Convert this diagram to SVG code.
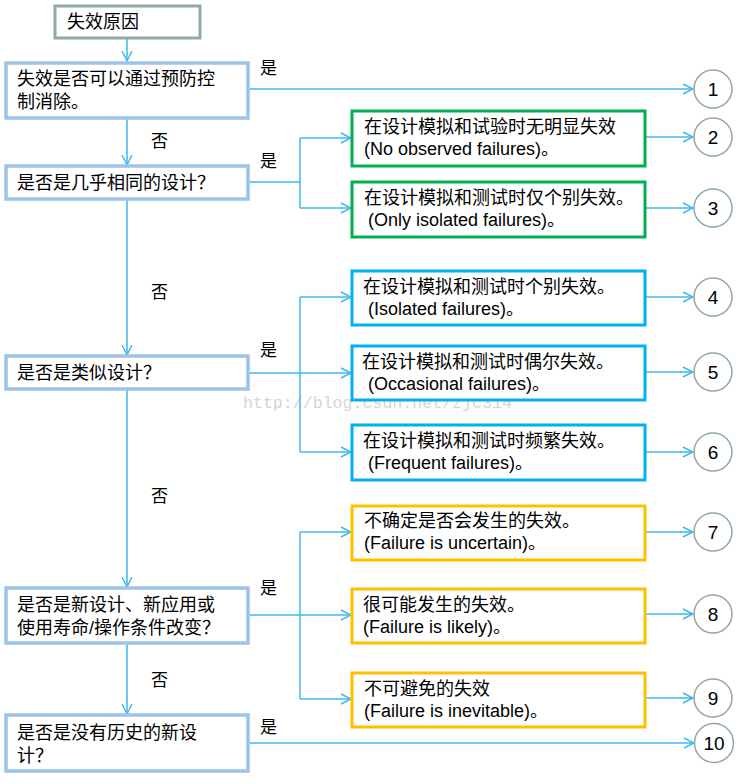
<svg xmlns="http://www.w3.org/2000/svg" width="740" height="784" viewBox="0 0 740 784">
<defs>
<marker id="arr" viewBox="0 0 12 12" refX="11" refY="6" markerWidth="12" markerHeight="12" markerUnits="userSpaceOnUse" orient="auto">
<path d="M1,1 L11,6 L1,11" fill="none" stroke="#3cb8ec" stroke-width="1.4"/>
</marker>
<style>
text{font-family:"Liberation Sans","Noto Sans CJK SC",sans-serif;font-size:18px;fill:#000}
.lbl{font-size:17px}
.num{font-size:19px;text-anchor:middle}
.q{fill:#fff;stroke:#9dc3e6;stroke-width:3.5}
.t{fill:#fff;stroke:#8fa9a9;stroke-width:3}
.g{fill:#fff;stroke:#00b050;stroke-width:3}
.b{fill:#fff;stroke:#00b0f0;stroke-width:3}
.y{fill:#fff;stroke:#ffc000;stroke-width:3}
.c{fill:#fff;stroke:#8fa9a9;stroke-width:1.5}
.ln{fill:none;stroke:#3cb8ec;stroke-width:1.5}
.wm{font-family:"Liberation Mono",monospace;font-size:16.6px;fill:#d6d6d6}
</style>
</defs>
<rect width="740" height="784" fill="#fff"/>
<text class="wm" x="243" y="408">http://blog.csdn.net/zjc314</text>
<g id="connectors">
<path class="ln" d="M127,38 V61" marker-end="url(#arr)"/>
<path class="ln" d="M127,118 V165" marker-end="url(#arr)"/>
<path class="ln" d="M127,199 V355" marker-end="url(#arr)"/>
<path class="ln" d="M127,389 V587" marker-end="url(#arr)"/>
<path class="ln" d="M127,643 V714" marker-end="url(#arr)"/>
<path class="ln" d="M248,89 H693" marker-end="url(#arr)"/>
<path class="ln" d="M248,182 H300"/>
<path class="ln" d="M300,138 V208"/>
<path class="ln" d="M300,138 H351" marker-end="url(#arr)"/>
<path class="ln" d="M300,208 H351" marker-end="url(#arr)"/>
<path class="ln" d="M248,373 H351" marker-end="url(#arr)"/>
<path class="ln" d="M300,297 V452"/>
<path class="ln" d="M300,297 H351" marker-end="url(#arr)"/>
<path class="ln" d="M300,452 H351" marker-end="url(#arr)"/>
<path class="ln" d="M248,615 H351" marker-end="url(#arr)"/>
<path class="ln" d="M300,532 V699"/>
<path class="ln" d="M300,532 H351" marker-end="url(#arr)"/>
<path class="ln" d="M300,699 H351" marker-end="url(#arr)"/>
<path class="ln" d="M248,743 H694" marker-end="url(#arr)"/>
<path class="ln" d="M646,137 H693" marker-end="url(#arr)"/>
<path class="ln" d="M646,208 H693" marker-end="url(#arr)"/>
<path class="ln" d="M646,297 H693" marker-end="url(#arr)"/>
<path class="ln" d="M646,372 H693" marker-end="url(#arr)"/>
<path class="ln" d="M646,452 H693" marker-end="url(#arr)"/>
<path class="ln" d="M646,532 H693" marker-end="url(#arr)"/>
<path class="ln" d="M646,614 H693" marker-end="url(#arr)"/>
<path class="ln" d="M646,698 H693" marker-end="url(#arr)"/>
<text class="lbl" x="260" y="74">是</text>
<text class="lbl" x="260" y="167">是</text>
<text class="lbl" x="260" y="356">是</text>
<text class="lbl" x="260" y="594">是</text>
<text class="lbl" x="260" y="733">是</text>
<text class="lbl" x="151" y="147">否</text>
<text class="lbl" x="151" y="298">否</text>
<text class="lbl" x="151" y="502">否</text>
<text class="lbl" x="151" y="686">否</text>
</g>
<g id="start"><rect class="t" x="55" y="6" width="145" height="32"/><text x="67" y="28">失效原因</text></g>
<g id="q1"><rect class="q" x="6" y="63" width="242" height="55"/><text x="17" y="85">失效是否可以通过预防控</text><text x="17" y="108">制消除。</text></g>
<g id="q2"><rect class="q" x="6" y="166" width="242" height="33"/><text x="17" y="189">是否是几乎相同的设计？</text></g>
<g id="q3"><rect class="q" x="6" y="356" width="242" height="33"/><text x="17" y="379">是否是类似设计？</text></g>
<g id="q4"><rect class="q" x="6" y="588" width="242" height="55"/><text x="17" y="611">是否是新设计、新应用或</text><text x="17" y="634">使用寿命/操作条件改变？</text></g>
<g id="q5"><rect class="q" x="6" y="715" width="242" height="56"/><text x="17" y="739">是否是没有历史的新设</text><text x="17" y="762">计？</text></g>
<g id="r2"><rect class="g" x="352" y="111" width="293" height="55"/><text x="364" y="133">在设计模拟和试验时无明显失效</text><text x="364" y="155">(No observed failures)。</text></g>
<g id="r3"><rect class="g" x="352" y="182" width="293" height="55"/><text x="364" y="204">在设计模拟和测试时仅个别失效。</text><text x="368" y="226">(Only isolated failures)。</text></g>
<g id="r4"><rect class="b" x="352" y="271" width="293" height="54"/><text x="363" y="293">在设计模拟和测试时个别失效。</text><text x="368" y="315">(Isolated failures)。</text></g>
<g id="r5"><rect class="b" x="352" y="346" width="293" height="54"/><text x="362" y="368">在设计模拟和测试时偶尔失效。</text><text x="368" y="390">(Occasional failures)。</text></g>
<g id="r6"><rect class="b" x="352" y="425" width="293" height="55"/><text x="363" y="447">在设计模拟和测试时频繁失效。</text><text x="368" y="469">(Frequent failures)。</text></g>
<g id="r7"><rect class="y" x="352" y="506" width="293" height="54"/><text x="364" y="527">不确定是否会发生的失效。</text><text x="364" y="549">(Failure is uncertain)。</text></g>
<g id="r8"><rect class="y" x="352" y="589" width="293" height="54"/><text x="363" y="611">很可能发生的失效。</text><text x="363" y="633">(Failure is likely)。</text></g>
<g id="r9"><rect class="y" x="352" y="673" width="293" height="54"/><text x="364" y="695">不可避免的失效</text><text x="364" y="717">(Failure is inevitable)。</text></g>
<g id="n1"><circle class="c" cx="713" cy="89" r="19"/><text class="num" x="713" y="96">1</text></g>
<g id="n2"><circle class="c" cx="713" cy="137" r="19"/><text class="num" x="713" y="144">2</text></g>
<g id="n3"><circle class="c" cx="713" cy="208" r="19"/><text class="num" x="713" y="215">3</text></g>
<g id="n4"><circle class="c" cx="713" cy="297" r="19"/><text class="num" x="713" y="304">4</text></g>
<g id="n5"><circle class="c" cx="713" cy="372" r="19"/><text class="num" x="713" y="379">5</text></g>
<g id="n6"><circle class="c" cx="713" cy="452" r="19"/><text class="num" x="713" y="459">6</text></g>
<g id="n7"><circle class="c" cx="713" cy="532" r="19"/><text class="num" x="713" y="539">7</text></g>
<g id="n8"><circle class="c" cx="713" cy="614" r="19"/><text class="num" x="713" y="621">8</text></g>
<g id="n9"><circle class="c" cx="713" cy="698" r="19"/><text class="num" x="713" y="705">9</text></g>
<g id="n10"><circle class="c" cx="714" cy="743" r="19.5"/><text class="num" x="714" y="750">10</text></g>
</svg>
